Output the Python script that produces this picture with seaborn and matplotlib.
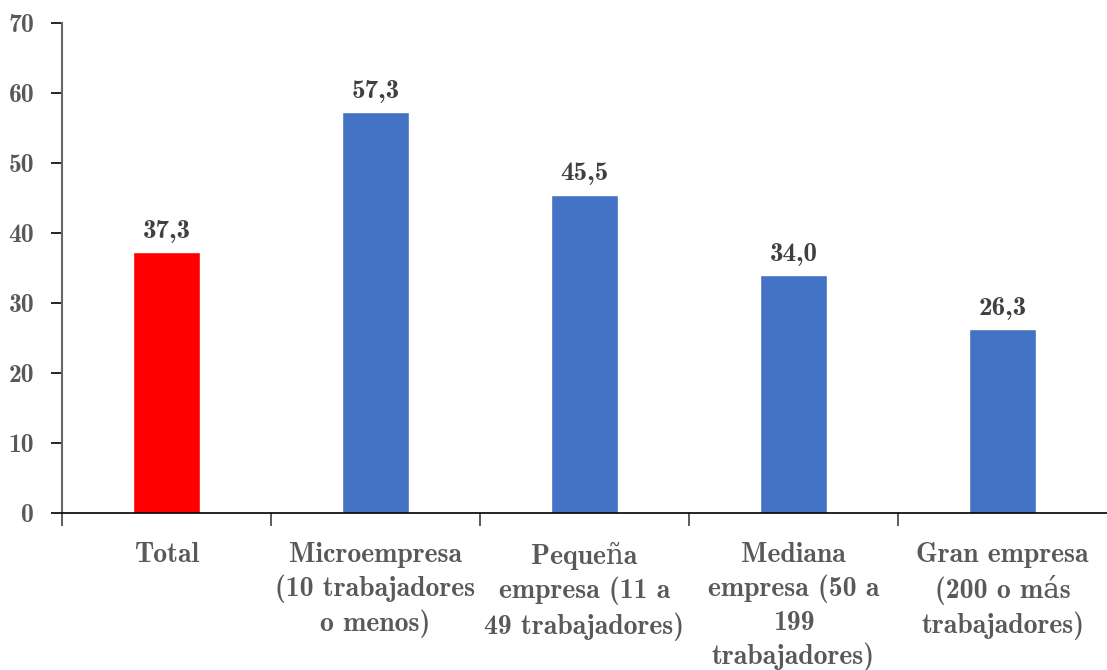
import matplotlib
matplotlib.use("Agg")
import matplotlib.pyplot as plt
import seaborn as sns
import pandas as pd

categories = [
    "Total",
    "Microempresa\n(10 trabajadores\no menos)",
    "Pequeña\nempresa (11 a\n49 trabajadores)",
    "Mediana\nempresa (50 a\n199\ntrabajadores)",
    "Gran empresa\n(200 o más\ntrabajadores)",
]
values = [37.3, 57.3, 45.5, 34.0, 26.3]
bar_colors = ["#FF0000", "#4472C4", "#4472C4", "#4472C4", "#4472C4"]
value_labels = ["37,3", "57,3", "45,5", "34,0", "26,3"]
y_ticks = [0, 10, 20, 30, 40, 50, 60, 70]

sns.set_theme(style="white")
plt.rcParams["font.family"] = ["cmb10", "DejaVu Serif"]
plt.rcParams["axes.unicode_minus"] = False

df = pd.DataFrame({"cat": categories, "val": values})

fig = plt.figure(figsize=(11.07, 6.70), dpi=100)
ax = fig.add_axes([62 / 1107, 1 - 513 / 670, 1 - 62 / 1107, (513 - 23) / 670])

sns.barplot(data=df, x="cat", y="val", hue="cat", palette=bar_colors,
            width=0.325, legend=False, ax=ax, saturation=1)

ax.set_xlim(-0.5, 4.5)
ax.set_ylim(0, 70)
ax.set_yticks(y_ticks)
ax.set_yticklabels([str(t) for t in y_ticks], fontsize=18.5, color="#595959")
ax.set_xticks(range(len(categories)))
ax.set_xticklabels(categories, fontsize=20, color="#595959", linespacing=1.31,
                   va="top")
ax.tick_params(axis="x", which="major", length=0, pad=21)
ax.set_xticks([-0.5, 0.5, 1.5, 2.5, 3.5], minor=True)
ax.tick_params(axis="x", which="minor", length=9, width=1.2, color="#404040",
               direction="out", bottom=True)
ax.tick_params(axis="y", length=8, width=1.2, color="#000000", direction="out",
               left=True, pad=12)
ax.set_xlabel("")
ax.set_ylabel("")

for s in ["top", "right"]:
    ax.spines[s].set_visible(False)
ax.spines["left"].set_color("#666666")
ax.spines["left"].set_linewidth(1.5)
ax.spines["bottom"].set_color("#000000")
ax.spines["bottom"].set_linewidth(1.2)

for i, (v, lab) in enumerate(zip(values, value_labels)):
    ax.text(i, v + 1.3, lab, ha="center", va="bottom", fontsize=19.5,
            color="#404040")

fig.savefig("out.png", dpi=100)
